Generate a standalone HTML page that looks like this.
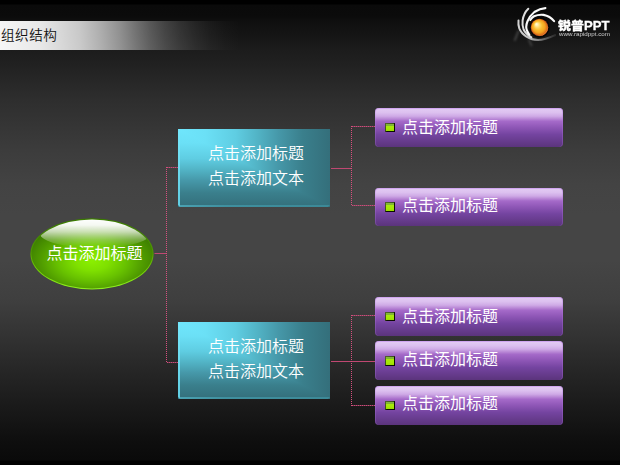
<!DOCTYPE html>
<html lang="zh">
<head>
<meta charset="utf-8">
<title>组织结构</title>
<style>
html,body{margin:0;padding:0;}
body{width:620px;height:465px;overflow:hidden;background:#000;font-family:"Liberation Sans","Noto Sans CJK SC",sans-serif;position:relative;}
#bg{position:absolute;left:0;top:0;width:620px;height:465px;
 background:linear-gradient(to bottom,#000 0,#000 4px,#0a0a0a 5px,#0b0b0b 16px,#0f0f0f 21px,#151515 35px,#1c1c1c 50px,#202020 62px,#2e2e2e 100px,#3c3c3c 150px,#434343 185px,#454545 215px,#454545 260px,#3f3f3f 300px,#333 335px,#262626 371px,#1a1a1a 406px,#0e0e0e 442px,#0a0a0a 460px,#000 461px,#000 465px);}
#title{position:absolute;left:0;top:21px;width:250px;height:29px;
 background:linear-gradient(to right,rgba(255,255,255,.96) 0,rgba(255,255,255,.9) 40px,rgba(255,255,255,.77) 80px,rgba(255,255,255,.66) 100px,rgba(255,255,255,.53) 120px,rgba(255,255,255,.41) 135px,rgba(255,255,255,.3) 150px,rgba(255,255,255,.21) 165px,rgba(255,255,255,.14) 180px,rgba(255,255,255,.085) 195px,rgba(255,255,255,.045) 210px,rgba(255,255,255,.015) 225px,rgba(255,255,255,0) 240px);
 color:#111;font-size:13.6px;letter-spacing:.5px;line-height:29px;padding-left:1px;box-sizing:border-box;font-weight:350;}
.teal{position:absolute;left:178px;width:152px;height:78px;box-sizing:border-box;
 background:linear-gradient(to right,#6fe6fc 0,#6be0f6 18%,#5fcde2 38%,#52b4c6 52%,#4698a9 66%,#3a7f8c 82%,#346f7b 100%),linear-gradient(to bottom,#6fe6fc 0,#6be0f6 18%,#5fcde2 38%,#52b4c6 52%,#4698a9 66%,#3a7f8c 82%,#346f7b 100%);background-blend-mode:darken;
 color:#fff;font-size:16px;line-height:25px;text-align:center;padding:12px 0 0 4px;font-weight:350;}
.teal:before{content:"";position:absolute;left:0;top:0;width:2px;height:100%;background:linear-gradient(to bottom,#76e8fc,#60cde2);clip-path:polygon(0 2px,100% 0,100% 100%,0 calc(100% - 2px));}
.teal:after{content:"";position:absolute;left:2px;bottom:0;right:0;height:2px;background:linear-gradient(to right,#4aa2b2,#3f909f 30%,#3c8997);clip-path:polygon(0 0,100% 0,calc(100% - 2px) 100%,0 100%);}
.pur{position:absolute;left:375px;width:188px;height:39px;border-radius:4px;box-sizing:border-box;
 background:linear-gradient(to bottom,#e4ccf4 0,#dcc0ef 12%,#cfaae6 21%,#b988d6 28%,#a56ac9 34%,#8e56b6 50%,#7444a0 68%,#5b347c 100%);
 color:#fff;font-size:16px;line-height:39px;padding-left:27px;font-weight:400;box-shadow:inset 0 1px 0 rgba(190,130,235,.5),inset 1px 0 0 rgba(185,130,230,.25),inset -1px 0 0 rgba(175,115,225,.3);}
.pur i{position:absolute;left:10px;top:15px;width:10px;height:9px;background:linear-gradient(135deg,rgba(70,100,20,.85) 0,rgba(50,75,10,.9) 46%,#0c1000 54%,#080a00 100%);}
.pur i:after{content:"";position:absolute;left:1px;top:1px;right:1px;bottom:1px;background:linear-gradient(to bottom,#86b840 0,#80b628 1.9px,#a8e80e 2.1px,#a6e606 70%,#9adc00 100%);}
#ell{position:absolute;left:31px;top:219px;width:123px;height:70px;}
#ell span{position:absolute;left:2px;top:1px;width:100%;text-align:center;color:#fff;font-size:16px;line-height:68px;font-weight:400;}
svg{position:absolute;left:0;top:0;}
#logo1{position:absolute;left:558px;top:18px;color:#fff;font-weight:bold;font-size:13px;line-height:16px;white-space:nowrap;transform:scale(1.004,1);transform-origin:0 0;-webkit-text-stroke:.35px #fff;}
#logo1 span{display:inline-block;font-size:12px;font-weight:900;transform:scale(1.07,.94);transform-origin:0 70%;margin-right:2px;}
#logo2{position:absolute;left:558.5px;top:31px;color:#d0d0d0;font-size:12px;line-height:12px;white-space:nowrap;transform:scale(.52,.5);transform-origin:0 0;}
</style>
</head>
<body>
<div id="bg"></div>
<div id="title">组织结构</div>
<svg width="620" height="465" viewBox="0 0 620 465">
 <defs>
  <radialGradient id="ball" cx="0.5" cy="0.5" r="0.5" fx="0.31" fy="0.3">
   <stop offset="0" stop-color="#fffbe4"/>
   <stop offset="0.12" stop-color="#fff2b8"/>
   <stop offset="0.3" stop-color="#fdd86c"/>
   <stop offset="0.5" stop-color="#f9bc30"/>
   <stop offset="0.72" stop-color="#f4a420"/>
   <stop offset="0.87" stop-color="#e07a1a"/>
   <stop offset="0.96" stop-color="#c8541c"/>
   <stop offset="1" stop-color="#c24c1c"/>
  </radialGradient>
  <radialGradient id="eg" cx="0.5" cy="0.6" r="0.56" gradientTransform="translate(0 0)">
   <stop offset="0" stop-color="#8af000"/>
   <stop offset="0.25" stop-color="#7fe000"/>
   <stop offset="0.5" stop-color="#68c200"/>
   <stop offset="0.75" stop-color="#509c00"/>
   <stop offset="1" stop-color="#3c7c00"/>
  </radialGradient>
  <linearGradient id="erim" x1="0" y1="0" x2="0" y2="1">
   <stop offset="0" stop-color="#3a7a00"/>
   <stop offset="0.45" stop-color="#4f9a00"/>
   <stop offset="0.75" stop-color="#7ad808"/>
   <stop offset="1" stop-color="#8ff020"/>
  </linearGradient>
  <linearGradient id="ehl" x1="0" y1="0" x2="0" y2="1">
   <stop offset="0" stop-color="#fff" stop-opacity="1"/>
   <stop offset="0.22" stop-color="#fff" stop-opacity=".95"/>
   <stop offset="0.45" stop-color="#fff" stop-opacity=".7"/>
   <stop offset="0.7" stop-color="#fff" stop-opacity=".3"/>
   <stop offset="0.9" stop-color="#fff" stop-opacity=".06"/>
   <stop offset="1" stop-color="#fff" stop-opacity="0"/>
  </linearGradient>
  <clipPath id="eclip"><ellipse cx="92" cy="253.9" rx="60.3" ry="34.4"/></clipPath>
  <filter id="soft" x="-20%" y="-20%" width="140%" height="140%"><feGaussianBlur stdDeviation="0.35"/></filter>
  <filter id="soft3" x="-10%" y="-30%" width="120%" height="160%"><feGaussianBlur stdDeviation="0.7"/></filter>
  <filter id="soft2" x="-50%" y="-50%" width="200%" height="200%"><feGaussianBlur stdDeviation="0.8"/></filter>
  <linearGradient id="rim" x1="0.2" y1="0.2" x2="0.9" y2="0.9">
   <stop offset="0" stop-color="#f8a020" stop-opacity="0"/>
   <stop offset="0.6" stop-color="#f08828" stop-opacity="0"/>
   <stop offset="1" stop-color="#f59038" stop-opacity=".9"/>
  </linearGradient>
  <linearGradient id="fadeD" gradientUnits="userSpaceOnUse" x1="518" y1="0" x2="556" y2="0">
   <stop offset="0" stop-color="#d4d4d4"/>
   <stop offset="0.3" stop-color="#bcbcbc"/>
   <stop offset="0.55" stop-color="#808080"/>
   <stop offset="0.8" stop-color="#505050"/>
   <stop offset="1" stop-color="#303030" stop-opacity=".7"/>
  </linearGradient>
 </defs>
 <g fill="none" stroke="#d8507f" stroke-width="1">
  <g stroke="#c04872">
  <path d="M154.5 253.5H166"/>
  <path d="M331 168.5H351.5"/>
  <path d="M331 361.5H375"/>
  </g>
  <g stroke-dasharray="1 1">
   <path d="M166.5 167V363"/>
   <path d="M351.5 126V206"/>
   <path d="M351.5 315V406"/>
  </g>
  <g stroke-dasharray="1.5 .5" stroke="#cc4c7a">
   <path d="M167 167.5H178"/>
   <path d="M167 362.5H178"/>
   <path d="M352 126.5H375"/>
   <path d="M352 205.5H375"/>
   <path d="M352 315.5H375"/>
   <path d="M352 405.5H375"/>
  </g>
 </g>
 <ellipse cx="92" cy="253.9" rx="61.6" ry="35.6" fill="url(#erim)"/>
 <ellipse cx="92" cy="253.9" rx="60.6" ry="34.6" fill="url(#eg)"/>
 <g clip-path="url(#eclip)"><ellipse cx="95.5" cy="233.4" rx="55.5" ry="14.8" fill="url(#ehl)" filter="url(#soft3)"/></g>
 <g fill="none" stroke-linecap="round" filter="url(#soft2)">
  <path d="M514.9 40L518.3 31.3" stroke="#fff" stroke-width="2" opacity=".2"/>
  <path d="M528.9 40L531.4 45.3" stroke="#fff" stroke-width="2" opacity=".16"/>
 </g>
 <g fill="none" stroke-linecap="round" filter="url(#soft)">
  <path d="M518.5 20.4C518.2 23 518.5 26 519.3 28.4C520.5 31.5 523 34.5 526.5 36.6C530 38.8 534 40 538 40C544 40 550 37.5 555.2 35.1" stroke="url(#fadeD)" stroke-width="2"/>
  <path d="M528.3 8.8C525.5 11.5 523.2 16 522.6 20.5C522.2 24 522.6 27 523.6 29.5C525 32.5 527.5 35 531.4 37.3" stroke="#dedede" stroke-width="2"/>
  <path d="M545.4 8.1C541.5 8.3 537.5 10 534.4 12C531.5 14.3 528.8 18 527.4 21.5C526 25 526 28.5 527.2 31C527.8 32.5 528.5 33.7 529.3 34.6" stroke="#fafafa" stroke-width="2.1"/>
  <path d="M554.1 21.2C551.5 18 548 15.8 543.5 14.9C540 14.5 536.5 15.2 534 16.2C532.5 17 531.3 18.5 530.3 20" stroke="#fafafa" stroke-width="2.1"/>
 </g>
 <circle cx="539.5" cy="27.4" r="10.3" fill="#060606"/>
 <circle cx="539.5" cy="27.4" r="8.7" fill="url(#ball)"/>
 <circle cx="539.5" cy="27.4" r="8.2" fill="none" stroke="url(#rim)" stroke-width="1"/>
</svg>
<div id="ell"><span>点击添加标题</span></div>
<div class="teal" style="top:129px">点击添加标题<br>点击添加文本</div>
<div class="teal" style="top:322px;height:77px">点击添加标题<br>点击添加文本</div>
<div class="pur" style="top:108px;line-height:40px"><i></i>点击添加标题</div>
<div class="pur" style="top:188px;height:38px;line-height:36px"><i style="top:14px;height:10px"></i>点击添加标题</div>
<div class="pur" style="top:297px;line-height:40px"><i></i>点击添加标题</div>
<div class="pur" style="top:341px;line-height:38px"><i style="height:10px"></i>点击添加标题</div>
<div class="pur" style="top:386px;line-height:36px"><i></i>点击添加标题</div>
<div id="logo1"><span>锐普</span>PPT</div>
<div id="logo2">www.rapidppt.com</div>
</body>
</html>
